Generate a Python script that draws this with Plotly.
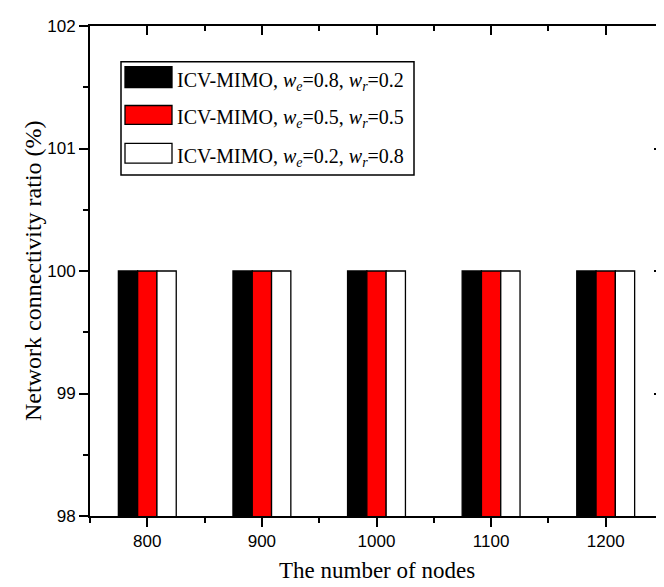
import plotly.graph_objects as go

nodes = [800, 900, 1000, 1100, 1200]
ratio_08_02 = [100, 100, 100, 100, 100]
ratio_05_05 = [100, 100, 100, 100, 100]
ratio_02_08 = [100, 100, 100, 100, 100]
series_names = [
    "ICV-MIMO, <i>w</i><sub><i>e</i></sub>=0.8, <i>w</i><sub><i>r</i></sub>=0.2",
    "ICV-MIMO, <i>w</i><sub><i>e</i></sub>=0.5, <i>w</i><sub><i>r</i></sub>=0.5",
    "ICV-MIMO, <i>w</i><sub><i>e</i></sub>=0.2, <i>w</i><sub><i>r</i></sub>=0.8",
]
series_values = [ratio_08_02, ratio_05_05, ratio_02_08]
colors = ["#000000", "#ff0000", "#ffffff"]
x_ticks = [800, 900, 1000, 1100, 1200]
y_ticks = [98, 99, 100, 101, 102]

W, H = 664, 587
L, R, T, B = 82, 9, 15, 79
PW, PH = W - L - R, H - T - B

def px(x):
    return (x - L) / PW

def py(y):
    return (H - B - y) / PH

fig = go.Figure()
for name, vals, c in zip(series_names, series_values, colors):
    fig.add_trace(go.Bar(x=nodes, y=vals, name=name, marker=dict(color=c, line=dict(color="black", width=1.3)),
                         showlegend=False))
fig.add_trace(go.Scatter(x=[], y=[], xaxis="x2", yaxis="y2", showlegend=False))

tickfont = dict(family="Liberation Sans, Arial", size=17, color="black")
fig.update_layout(
    width=W, height=H,
    margin=dict(l=L, r=R, t=T, b=B),
    paper_bgcolor="white", plot_bgcolor="white",
    barmode="group", bargap=0.495, bargroupgap=0,
    xaxis=dict(range=[750, 1250], tickvals=x_ticks, ticks="outside", ticklen=9, tickwidth=1.5,
               tickcolor="black", showline=True, linecolor="black", linewidth=2, showgrid=False,
               zeroline=False, tickfont=tickfont,
               minor=dict(dtick=50, tick0=750, ticks="outside", ticklen=5, tickwidth=1.5, tickcolor="black")),
    yaxis=dict(range=[98, 102], tickvals=y_ticks, ticks="outside", ticklen=9, tickwidth=1.5,
               tickcolor="black", showline=True, linecolor="black", linewidth=2, showgrid=False,
               zeroline=False, tickfont=tickfont,
               minor=dict(dtick=0.5, tick0=98, ticks="outside", ticklen=5, tickwidth=1.5, tickcolor="black")),
    xaxis2=dict(range=[750, 1250], overlaying="x", side="top", anchor="y", tickvals=x_ticks, ticks="inside",
                ticklen=9, tickwidth=1.5, tickcolor="black", showline=True, linecolor="black", linewidth=2,
                showgrid=False, zeroline=False, showticklabels=False,
                minor=dict(dtick=50, tick0=750, ticks="inside", ticklen=5, tickwidth=1.5, tickcolor="black")),
    yaxis2=dict(range=[98, 102], overlaying="y", side="right", anchor="x", tickvals=y_ticks, ticks="inside",
                ticklen=9, tickwidth=1.5, tickcolor="black", showline=True, linecolor="black", linewidth=2,
                showgrid=False, zeroline=False, showticklabels=False,
                minor=dict(dtick=0.5, tick0=98, ticks="inside", ticklen=5, tickwidth=1.5, tickcolor="black")),
)

# Custom legend
shapes = [dict(type="rect", xref="paper", yref="paper", x0=px(113), x1=px(406), y0=py(165), y1=py(51),
               line=dict(color="black", width=1.5), fillcolor="white", layer="above")]
rows = [(56, 77), (95, 114), (133, 153)]
annotations = []
for (y0, y1), c, name in zip(rows, colors, series_names):
    shapes.append(dict(type="rect", xref="paper", yref="paper", x0=px(117), x1=px(164), y0=py(y1), y1=py(y0),
                       line=dict(color="black", width=1.3), fillcolor=c, layer="above"))
    annotations.append(dict(xref="paper", yref="paper", x=px(167), y=py((y0 + y1) / 2 + 4), xanchor="left",
                            yanchor="middle", text=name, showarrow=False,
                            font=dict(family="Liberation Serif, Times New Roman", size=20, color="black")))

annotations.append(dict(xref="paper", yref="paper", x=0.5, y=py(563), xanchor="center", yanchor="middle",
                        text="The number of nodes", showarrow=False,
                        font=dict(family="Liberation Serif, Times New Roman", size=23, color="black")))
annotations.append(dict(xref="paper", yref="paper", x=px(25), y=0.5, xanchor="center", yanchor="middle",
                        text="Network connectivity ratio (%)", showarrow=False, textangle=-90,
                        font=dict(family="Liberation Serif, Times New Roman", size=24, color="black")))
fig.update_layout(shapes=shapes, annotations=annotations)

fig.write_html("out.html")
